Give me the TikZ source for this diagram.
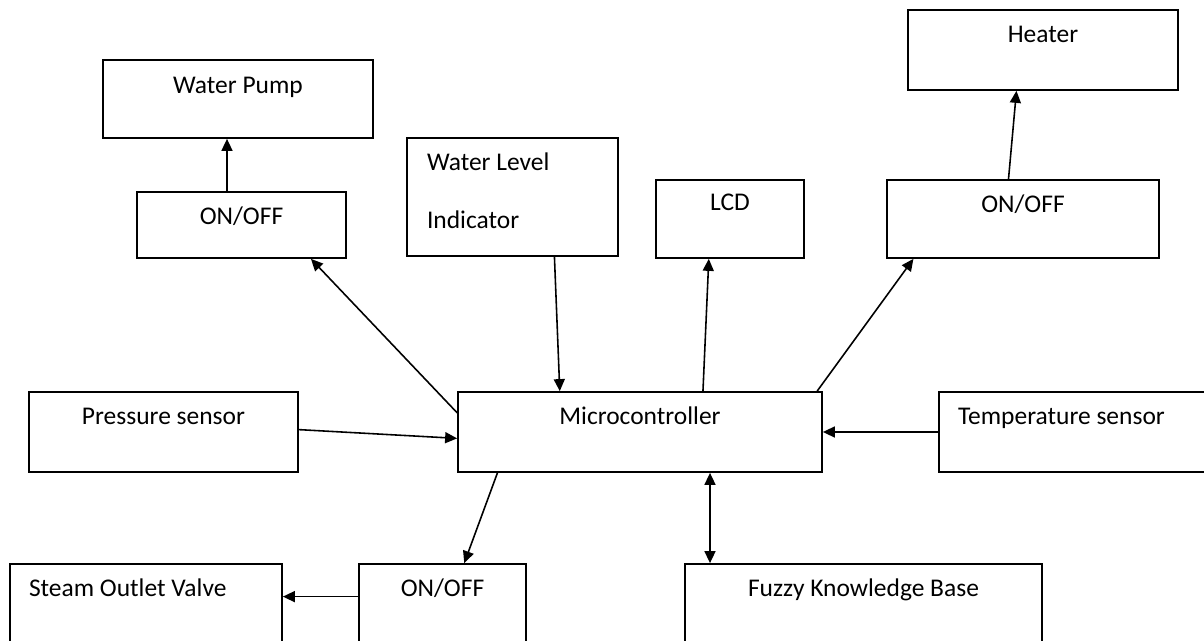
\documentclass[tikz,border=0pt]{standalone}
\usepackage{fontspec}
\setmainfont{Carlito}
\usepackage{tikz}
\usetikzlibrary{arrows.meta}

\begin{document}
\begin{tikzpicture}[
    box/.style={rectangle, draw=black, line width=1pt, inner sep=0pt,
      text height=0.66cm, text depth=0.94cm, font=\fontsize{14.5}{17}\selectfont},
    lbox/.style={box, align=flush left, inner xsep=0.38cm},
    arrow/.style={->, >={Triangle[length=0.24cm, width=0.22cm]}, line width=0.9pt},
  ]
    \useasboundingbox (0,0) rectangle (24.08,12.82);
    \node[box, minimum width=5.4cm, text height=0.68cm, text depth=0.88cm] (pump) at (4.76,10.84) {Water Pump};
    \node[box, minimum width=4.18cm, text depth=0.66cm] (onoffL) at (4.83,8.32) {ON/OFF};
    \node[lbox, text width=3.42cm, inner xsep=0.4cm, text depth=1.70cm] (level) at (10.25,8.88)
      {Water Level\\[0.56cm]Indicator};
    \node[box, minimum width=2.96cm, text height=0.62cm, text depth=0.94cm] (lcd) at (14.60,8.44) {LCD};
    \node[box, minimum width=5.44cm, text depth=0.9cm] (onoffR) at (20.46,8.44) {ON/OFF};
    \node[box, minimum width=5.4cm] (heater) at (20.86,11.82) {Heater};
    \node[box, minimum width=5.38cm] (press) at (3.27,4.18) {Pressure sensor};
    \node[box, minimum width=7.28cm] (micro) at (12.80,4.18) {Microcontroller};
    \node[lbox, text width=4.74cm] (temp) at (21.53,4.18) {Temperature sensor};
    \node[box, minimum width=3.34cm] (onoffB) at (8.85,0.74) {ON/OFF};
    \node[lbox, text width=4.68cm] (steam) at (2.92,0.74) {Steam Outlet Valve};
    \node[box, minimum width=7.14cm] (fuzzy) at (17.27,0.74) {Fuzzy Knowledge Base};

    \draw[arrow] ([xshift=-0.29cm]onoffL.north) -- ([xshift=-0.29cm]onoffL.north |- pump.south);
    \draw[arrow] (micro.174) -- (onoffL.-26);
    \draw[arrow] (level.-55) -- (micro.153);
    \draw[arrow] (micro.33) -- (lcd.-118);
    \draw[arrow] (micro.13) -- (onoffR.-160);
    \draw[arrow] (onoffR.110) -- (heater.-123);
    \draw[arrow] (press.1) -- (micro.182);
    \draw[arrow] (temp.west) -- (micro.east);
    \draw[arrow, <->] ([xshift=1.4cm]micro.south) -- ([xshift=1.4cm]micro.south |- fuzzy.north);
    \draw[arrow] (micro.-164) -- (onoffB.62);
    \draw[arrow] (onoffB.175) -- (onoffB.175 -| steam.east);
  \end{tikzpicture}
\end{document}
